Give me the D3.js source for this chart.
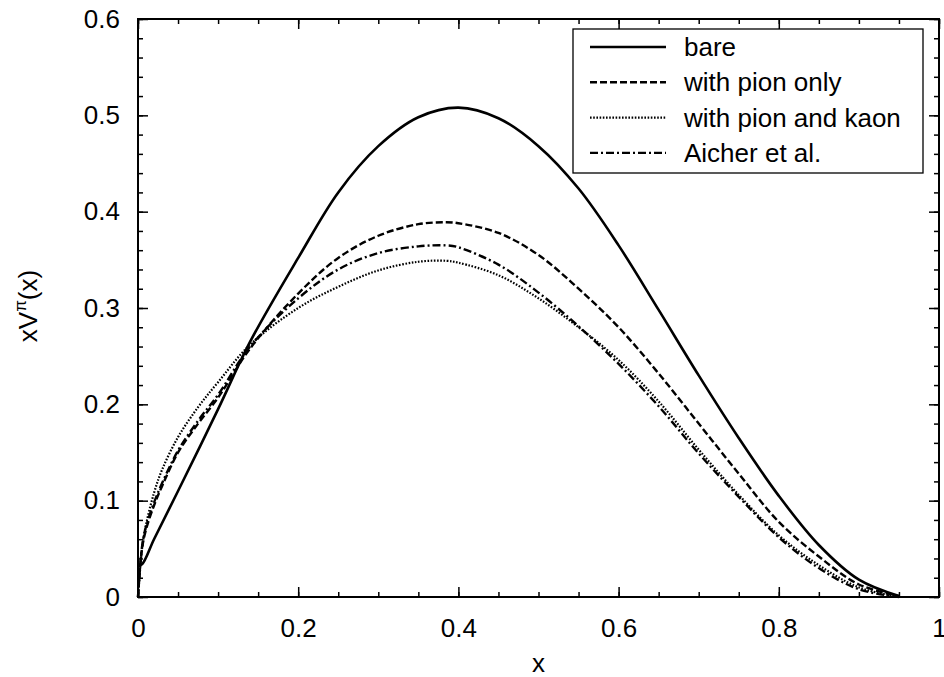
<!DOCTYPE html>
<html>
<head>
<meta charset="utf-8">
<script src="https://cdn.jsdelivr.net/npm/d3@7"></script>
<style>
  body { margin: 0; background: #fff; }
  text { font-family: "Liberation Sans", Arial, Helvetica, sans-serif; fill: #000; }
</style>
</head>
<body>
<div id="chart"></div>
<script>
// x positions and curve values
const xBare = [0, 0.005, 0.02, 0.05, 0.1, 0.14, 0.2, 0.25, 0.3, 0.35, 0.4, 0.45, 0.5, 0.55, 0.6, 0.65, 0.7, 0.75, 0.8, 0.85, 0.9, 0.95];
const yBare = [0.033, 0.034, 0.06, 0.11, 0.195, 0.265, 0.352, 0.42, 0.468, 0.498, 0.508, 0.497, 0.468, 0.424, 0.365, 0.298, 0.23, 0.165, 0.105, 0.054, 0.018, 0.001];

const xMeson = [0, 0.005, 0.01, 0.02, 0.03, 0.05, 0.075, 0.1, 0.14, 0.2, 0.25, 0.3, 0.35, 0.385, 0.4, 0.45, 0.5, 0.55, 0.6, 0.65, 0.7, 0.75, 0.8, 0.85, 0.9, 0.95];
const yPion = [0, 0.05, 0.07, 0.095, 0.115, 0.15, 0.18, 0.207, 0.258, 0.315, 0.352, 0.375, 0.387, 0.389, 0.388, 0.378, 0.355, 0.32, 0.28, 0.232, 0.18, 0.128, 0.078, 0.042, 0.013, 0.001];
const yPionKaon = [0, 0.05, 0.075, 0.108, 0.132, 0.166, 0.197, 0.223, 0.262, 0.3, 0.322, 0.339, 0.348, 0.349, 0.347, 0.334, 0.31, 0.28, 0.246, 0.203, 0.153, 0.106, 0.064, 0.033, 0.01, 0.0];
const yAicher = [0, 0.052, 0.073, 0.098, 0.118, 0.152, 0.183, 0.21, 0.26, 0.31, 0.34, 0.357, 0.364, 0.365, 0.363, 0.345, 0.316, 0.281, 0.242, 0.198, 0.149, 0.104, 0.062, 0.03, 0.008, 0.0];

const seriesNames = ["bare", "with pion only", "with pion and kaon", "Aicher et al."];
const xTicks = [0, 0.2, 0.4, 0.6, 0.8, 1];
const yTicks = [0, 0.1, 0.2, 0.3, 0.4, 0.5, 0.6];

const series = [
    { name: seriesNames[0], xs: xBare, ys: yBare, dash: null, width: 2.6 },
    { name: seriesNames[1], xs: xMeson, ys: yPion, dash: "7,3", width: 2.4 },
    { name: seriesNames[2], xs: xMeson, ys: yPionKaon, dash: "1.6,1.6", width: 2.2 },
    { name: seriesNames[3], xs: xMeson, ys: yAicher, dash: "8,3,2,3", width: 2.4 }
];

const W = 944, H = 677;
const margin = { top: 19, right: 5, bottom: 80, left: 138 };
const width = W - margin.left - margin.right;
const height = H - margin.top - margin.bottom;

const svg = d3.select("#chart").append("svg")
    .attr("width", W)
    .attr("height", H);

const g = svg.append("g")
    .attr("transform", `translate(${margin.left},${margin.top})`);

const xScale = d3.scaleLinear().domain([0, 1]).range([0, width]);
const yScale = d3.scaleLinear().domain([0, 0.6]).range([height, 0]);

// inward ticks on all four sides
const fmt = d => d === 0 ? "0" : d === 1 ? "1" : d3.format(".1f")(d);
const xMinor = d3.range(0, 1.0001, 0.05);
const yMinor = d3.range(0, 0.6001, 0.02);

g.append("g").attr("transform", `translate(0,${height})`)
    .call(d3.axisBottom(xScale).tickValues(xMinor).tickSize(-5).tickFormat(""));
g.append("g")
    .call(d3.axisTop(xScale).tickValues(xMinor).tickSize(-5).tickFormat(""));
g.append("g")
    .call(d3.axisLeft(yScale).tickValues(yMinor).tickSize(-5).tickFormat(""));
g.append("g").attr("transform", `translate(${width},0)`)
    .call(d3.axisRight(yScale).tickValues(yMinor).tickSize(-5).tickFormat(""));

g.append("g").attr("class", "x-axis").attr("transform", `translate(0,${height})`)
    .call(d3.axisBottom(xScale).tickValues(xTicks).tickSize(-10).tickPadding(22).tickFormat(fmt));
g.append("g")
    .call(d3.axisTop(xScale).tickValues(xTicks).tickSize(-10).tickFormat(""));
g.append("g").attr("class", "y-axis")
    .call(d3.axisLeft(yScale).tickValues(yTicks).tickSize(-10).tickPadding(18).tickFormat(fmt));
g.append("g").attr("transform", `translate(${width},0)`)
    .call(d3.axisRight(yScale).tickValues(yTicks).tickSize(-10).tickFormat(""));

g.selectAll(".domain").remove();
g.selectAll(".tick line").attr("stroke", "#000").attr("stroke-width", 1.5);
g.selectAll(".tick text").attr("font-size", 26).attr("font-family", "Liberation Sans, Arial, sans-serif");

g.append("rect")
    .attr("width", width).attr("height", height)
    .attr("fill", "none").attr("stroke", "#000").attr("stroke-width", 2);

// curves
const line = d3.line().curve(d3.curveCatmullRom.alpha(0.5));
series.forEach(s => {
    const pts = s.xs.map((x, i) => [xScale(x), yScale(s.ys[i])]);
    g.append("path")
        .attr("d", line(pts))
        .attr("fill", "none")
        .attr("stroke", "#000")
        .attr("stroke-width", s.width)
        .attr("stroke-dasharray", s.dash);
});

// legend
const lg = svg.append("g");
lg.append("rect")
    .attr("x", 573).attr("y", 29).attr("width", 350).attr("height", 144)
    .attr("fill", "#fff").attr("stroke", "#000").attr("stroke-width", 1.3);
series.forEach((s, i) => {
    const yy = 47 + i * 35.3;
    lg.append("line")
        .attr("x1", 590).attr("x2", 666).attr("y1", yy).attr("y2", yy)
        .attr("stroke", "#000").attr("stroke-width", s.width)
        .attr("stroke-dasharray", s.dash);
    lg.append("text")
        .attr("x", 684).attr("y", yy + 9)
        .attr("font-size", 26)
        .text(s.name);
});

// axis labels
svg.append("text")
    .attr("x", margin.left + width / 2).attr("y", 672)
    .attr("text-anchor", "middle").attr("font-size", 26)
    .text("x");

const yl = svg.append("text")
    .attr("transform", `translate(37,${margin.top + height / 2 - 2}) rotate(-90)`)
    .attr("text-anchor", "middle").attr("font-size", 26);
yl.append("tspan").text("xV");
yl.append("tspan").attr("dy", -11).attr("font-size", 17).text("π");
yl.append("tspan").attr("dy", 11).text("(x)");
</script>
</body>
</html>
